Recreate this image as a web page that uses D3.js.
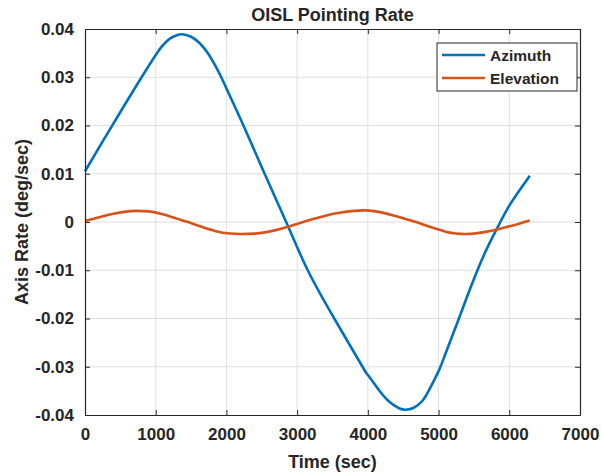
<!DOCTYPE html>
<html>
<head>
<meta charset="utf-8">
<script src="https://cdn.jsdelivr.net/npm/d3@7"></script>
<style>
  body { margin: 0; background: #fff; }
  text { font-family: "Liberation Sans", Arial, sans-serif; font-weight: bold; fill: #262626; }
</style>
</head>
<body>
<svg id="chart" width="602" height="475"></svg>
<script>
// values
const azTime = [0, 250, 500, 750, 1000, 1100, 1200, 1300, 1370, 1500, 1620, 1750, 1900, 2000, 2250, 2540, 2845,
    3150, 3525, 3924, 4000, 4150, 4300, 4441, 4535, 4650, 4769, 4863, 5000, 5100, 5277, 5400, 5544,
    5700, 5873, 6000, 6150, 6290];
const azRate = [0.0105, 0.0167, 0.0228, 0.0288, 0.0346, 0.0366, 0.0380, 0.0387, 0.0389, 0.0384, 0.0371, 0.0347, 0.0308, 0.0277, 0.0197, 0.0100, 0.0000,
    -0.0100, -0.0200, -0.0300, -0.0317, -0.0347, -0.0372, -0.0386, -0.0389, -0.0385, -0.0371, -0.0349, -0.0309, -0.0272, -0.0204, -0.0156, -0.0102,
    -0.0050, 0.0000, 0.0034, 0.0067, 0.0096];

const elTime = [0, 200, 400, 600, 727, 900, 1100, 1300, 1455, 1650, 1850, 2050, 2200, 2400, 2600, 2800, 3000, 3200,
    3400, 3600, 3800, 3970, 4150, 4350, 4500, 4680, 4900, 5100, 5250, 5380, 5550, 5750, 5950, 6150, 6290];
const elRate = [0.0002, 0.0010, 0.0017, 0.0022, 0.0023, 0.0022, 0.0016, 0.0007, 0.0000, -0.0010, -0.0019, -0.0024, -0.0025, -0.0024, -0.0020, -0.0013, -0.0004, 0.0005,
    0.0013, 0.0019, 0.0023, 0.0024, 0.0021, 0.0014, 0.0008, 0.0000, -0.0011, -0.0020, -0.0024, -0.0025, -0.0023, -0.0018, -0.0011, -0.0003, 0.0003];

const seriesNames = ['Azimuth', 'Elevation'];
const seriesColors = ['#0072BD', '#D95319'];
const xTicks = [0, 1000, 2000, 3000, 4000, 5000, 6000, 7000];
const yTicks = [-0.04, -0.03, -0.02, -0.01, 0, 0.01, 0.02, 0.03, 0.04];

const margin = { top: 29, right: 22, bottom: 60, left: 85 };
const width = 602 - margin.left - margin.right;
const height = 475 - margin.top - margin.bottom;

const svg = d3.select('#chart');
const g = svg.append('g')
    .attr('transform', `translate(${margin.left}, ${margin.top})`);

const x = d3.scaleLinear().domain([0, 7000]).range([0, width]);
const y = d3.scaleLinear().domain([-0.04, 0.04]).range([height, 0]);

// grid
g.append('g').selectAll('line')
    .data(xTicks.slice(1, -1))
    .enter().append('line')
    .attr('x1', d => x(d)).attr('x2', d => x(d))
    .attr('y1', 0).attr('y2', height)
    .attr('stroke', '#dfdfdf').attr('stroke-width', 1);
g.append('g').selectAll('line')
    .data(yTicks.slice(1, -1))
    .enter().append('line')
    .attr('x1', 0).attr('x2', width)
    .attr('y1', d => y(d)).attr('y2', d => y(d))
    .attr('stroke', '#dfdfdf').attr('stroke-width', 1);

// lines
const line = d3.line()
    .x(d => x(d[0]))
    .y(d => y(d[1]))
    .curve(d3.curveNatural);

const series = [
    d3.zip(azTime, azRate),
    d3.zip(elTime, elRate)
];
series.forEach((s, i) => {
    g.append('path')
        .datum(s)
        .attr('fill', 'none')
        .attr('stroke', seriesColors[i])
        .attr('stroke-width', 2.6)
        .attr('d', line);
});

// axes, ticks inside on all sides
const xAxis = d3.axisBottom(x).tickValues(xTicks).tickSizeInner(-5).tickSizeOuter(0).tickPadding(13).tickFormat(d3.format('d'));
const yAxis = d3.axisLeft(y).tickValues(yTicks).tickSizeInner(-5).tickSizeOuter(0).tickPadding(11).tickFormat(d => d === 0 ? '0' : d.toFixed(2));
const xTop = d3.axisTop(x).tickValues(xTicks).tickSizeInner(-5).tickSizeOuter(0).tickFormat('');
const yRight = d3.axisRight(y).tickValues(yTicks).tickSizeInner(-5).tickSizeOuter(0).tickFormat('');

[
    [xAxis, `translate(0, ${height})`],
    [yAxis, 'translate(0, 0)'],
    [xTop, 'translate(0, 0)'],
    [yRight, `translate(${width}, 0)`]
].forEach(([ax, tr]) => {
    const a = g.append('g').attr('transform', tr).call(ax);
    a.select('.domain').attr('stroke', '#262626').attr('stroke-width', 1.2);
    a.selectAll('.tick line').attr('stroke', '#262626');
    a.selectAll('text')
        .style('font-family', '"Liberation Sans", Arial, sans-serif')
        .style('font-weight', 'bold')
        .style('font-size', '17px')
        .attr('fill', '#262626');
});

// title and labels
svg.append('text')
    .attr('x', margin.left + width / 2)
    .attr('y', 21)
    .attr('text-anchor', 'middle')
    .style('font-size', '18px')
    .text('OISL Pointing Rate');

svg.append('text')
    .attr('x', margin.left + width / 2)
    .attr('y', 468)
    .attr('text-anchor', 'middle')
    .style('font-size', '18px')
    .text('Time (sec)');

svg.append('text')
    .attr('transform', `translate(28, ${margin.top + height / 2}) rotate(-90)`)
    .attr('text-anchor', 'middle')
    .style('font-size', '18px')
    .text('Axis Rate (deg/sec)');

// legend
const legend = svg.append('g').attr('transform', 'translate(437, 43)');
legend.append('rect')
    .attr('width', 140).attr('height', 48)
    .attr('fill', '#fff')
    .attr('stroke', '#262626').attr('stroke-width', 1);
seriesNames.forEach((name, i) => {
    const row = legend.append('g').attr('transform', `translate(0, ${12 + i * 23})`);
    row.append('line')
        .attr('x1', 5).attr('x2', 48)
        .attr('stroke', seriesColors[i])
        .attr('stroke-width', 2.6);
    row.append('text')
        .attr('x', 53).attr('y', 5.5)
        .style('font-size', '15.5px')
        .text(name);
});
</script>
</body>
</html>
